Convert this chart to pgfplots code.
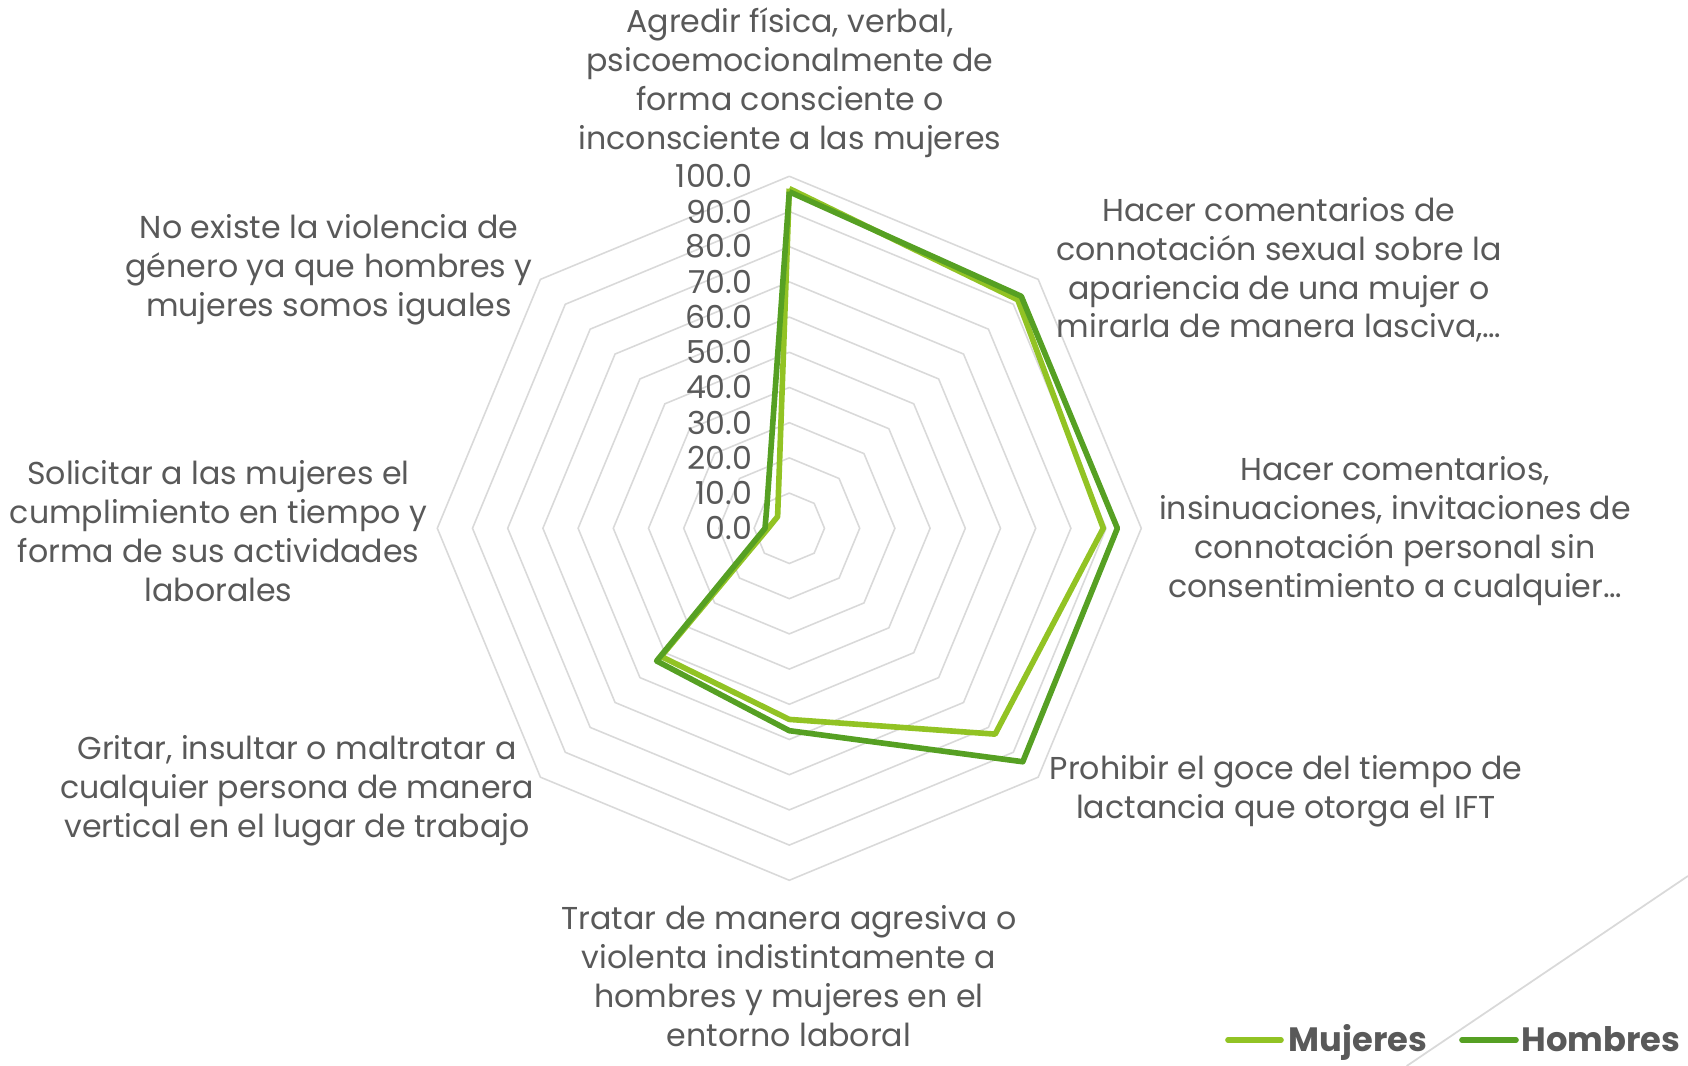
\documentclass[border=0pt]{standalone}
\usepackage{pgfplots}
\pgfplotsset{compat=1.18}
\usepackage{fontspec}
\setmainfont{Poppins}
\definecolor{muj}{HTML}{92C324}
\definecolor{hom}{HTML}{56A023}
\definecolor{gridc}{HTML}{D9D9D9}
\definecolor{txt}{HTML}{595959}
\begin{document}
\begin{tikzpicture}[x=1mm,y=1mm]
\path[use as bounding box] (0,0) rectangle (168.8,106.6);
\begin{axis}[
  at={(78.93mm,53.77mm)}, anchor=center,
  x=0.352mm, y=0.352mm,
  xmin=-100, xmax=100, ymin=-100, ymax=100,
  hide axis, clip=false,
]
% octagon grid (10 ... 100)
\pgfplotsinvokeforeach{10,20,...,100}{
  \addplot[gridc, line width=0.45pt, no marks, data cs=polar] coordinates {(90,#1) (45,#1) (0,#1) (-45,#1) (-90,#1) (-135,#1) (180,#1) (135,#1) (90,#1)};
}
% Mujeres
\addplot[muj, line width=1.6pt, no marks, line join=round, data cs=polar] coordinates {
(90,96.5) (45,91.8) (0,89.2) (-45,82.7) (-90,54.3) (-135,51.5) (180,6.0) (135,4.7) (90,96.5)};
% Hombres
\addplot[hom, line width=1.6pt, no marks, line join=round, data cs=polar] coordinates {
(90,95.6) (45,93.2) (0,93.2) (-45,93.8) (-90,57.5) (-135,53.3) (180,6.9) (135,9.0) (90,95.6)};
% radial tick labels
\pgfplotsinvokeforeach{0,10,...,100}{
  \node[anchor=east, inner sep=0pt, text=txt, font=\fontsize{9}{11}\selectfont, xshift=-3.63mm] at (axis cs:0,#1) {#1.0};
}
\end{axis}
\tikzset{lab/.style={align=center, text=txt, inner sep=0pt, font=\fontsize{9}{11.04}\selectfont}}
\node[lab] at (79.0,106.6-8.27) {Agredir física, verbal,\\psicoemocionalmente de\\forma consciente o\\inconsciente a las mujeres};
\node[lab] at (127.9,106.6-27.0) {Hacer comentarios de\\connotación sexual sobre la\\apariencia de una mujer o\\mirarla de manera lasciva,…};
\node[lab] at (139.5,106.6-53.1) {Hacer comentarios,\\insinuaciones, invitaciones de\\connotación personal sin\\consentimiento a cualquier…};
\node[lab] at (128.6,106.6-79.1) {Prohibir el goce del tiempo de\\lactancia que otorga el IFT};
\node[lab] at (78.9,106.6-97.6) {Tratar de manera agresiva o\\violenta indistintamente a\\hombres y mujeres en el\\entorno laboral};
\node[lab] at (29.7,106.6-79.1) {Gritar, insultar o maltratar a\\cualquier persona de manera\\vertical en el lugar de trabajo};
\node[lab] at (21.85,106.6-53.1) {Solicitar a las mujeres el\\cumplimiento en tiempo y\\forma de sus actividades\\laborales};
\node[lab] at (32.9,106.6-27.0) {No existe la violencia de\\género ya que hombres y\\mujeres somos iguales};
% decorative line
\draw[gridc, line width=0.5pt] (140.67,0) -- (168.8,19.0);
% legend
\draw[muj, line width=1.6pt, line cap=round] (122.8,106.6-104.0) -- (128.1,106.6-104.0);
\node[anchor=base west, inner sep=0pt, text=txt, font=\fontsize{9.6}{11}\bfseries\selectfont] at (128.8,106.6-105.2) {Mujeres};
\draw[hom, line width=1.6pt, line cap=round] (146.2,106.6-104.0) -- (151.6,106.6-104.0);
\node[anchor=base west, inner sep=0pt, text=txt, font=\fontsize{9.6}{11}\bfseries\selectfont] at (152.1,106.6-105.2) {Hombres};
\end{tikzpicture}
\end{document}
